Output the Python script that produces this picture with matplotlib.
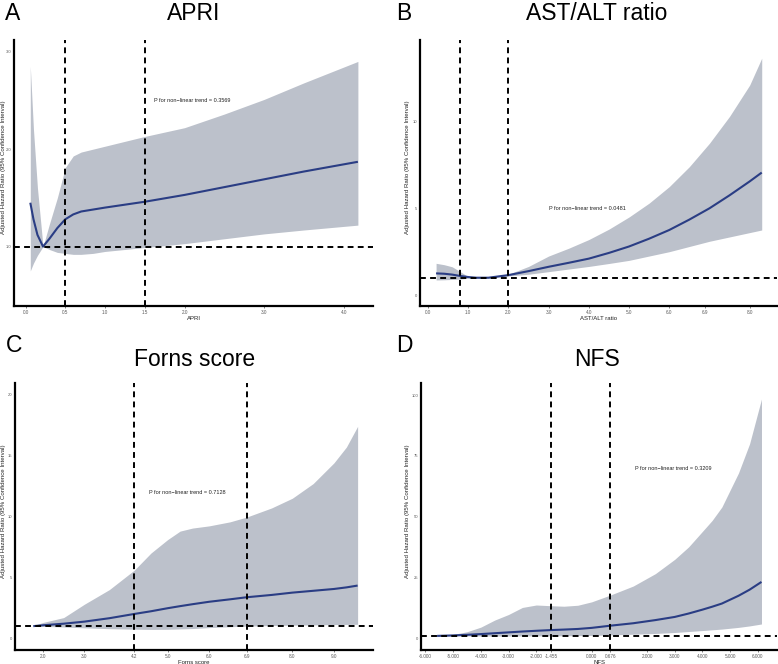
import matplotlib
matplotlib.use("Agg")
import matplotlib.pyplot as plt

plt.rcParams['font.family'] = ['Liberation Sans', 'DejaVu Sans']

# ---------------- data ----------------
# Panel A: APRI
apri_x = [0.06, 0.1, 0.15, 0.22, 0.3, 0.4, 0.5, 0.6, 0.7, 0.85, 1.0, 1.5, 2.0, 2.5, 3.0, 3.5, 4.18]
apri_hr = [1.45, 1.28, 1.12, 1.0, 1.08, 1.19, 1.28, 1.33, 1.36, 1.38, 1.40, 1.46, 1.53, 1.61, 1.69, 1.77, 1.87]
apri_up = [2.85, 2.2, 1.6, 1.0, 1.23, 1.5, 1.81, 1.93, 1.97, 2.0, 2.03, 2.13, 2.22, 2.36, 2.51, 2.68, 2.9]
apri_lo = [0.75, 0.83, 0.91, 1.0, 0.97, 0.94, 0.93, 0.92, 0.92, 0.93, 0.95, 0.99, 1.03, 1.08, 1.13, 1.17, 1.22]
apri_cuts = [0.5, 1.5]
apri_xticks = [0.0, 0.5, 1.0, 1.5, 2.0, 3.0, 4.0]
apri_xticklabels = ["0.0", "0.5", "1.0", "1.5", "2.0", "3.0", "4.0"]
apri_yticks = [1.0, 2.0, 3.0]
apri_yticklabels = ["1.0", "2.0", "3.0"]
apri_p = "P for non\u2212linear trend = 0.3569"

# Panel B: AST/ALT ratio
ratio_x = [0.2, 0.4, 0.6, 0.8, 1.0, 1.2, 1.5, 2.0, 2.5, 3.0, 3.5, 4.0, 4.5, 5.0, 5.5, 6.0, 6.5, 7.0, 7.5, 8.0, 8.3]
ratio_hr = [1.25, 1.23, 1.18, 1.1, 1.04, 1.0, 1.0, 1.15, 1.38, 1.63, 1.86, 2.1, 2.43, 2.8, 3.25, 3.75, 4.35, 5.0, 5.75, 6.55, 7.06]
ratio_up = [1.83, 1.75, 1.63, 1.35, 1.06, 1.02, 1.02, 1.2, 1.65, 2.25, 2.7, 3.2, 3.8, 4.5, 5.3, 6.25, 7.4, 8.75, 10.3, 12.1, 13.65]
ratio_lo = [0.87, 0.88, 0.9, 0.92, 0.97, 0.98, 0.98, 1.1, 1.2, 1.35, 1.5, 1.65, 1.82, 2.0, 2.25, 2.5, 2.8, 3.1, 3.35, 3.6, 3.75]
ratio_cuts = [0.8, 2.0]
ratio_xticks = [0.0, 1.0, 2.0, 3.0, 4.0, 5.0, 6.0, 6.9, 8.0]
ratio_xticklabels = ["0.0", "1.0", "2.0", "3.0", "4.0", "5.0", "6.0", "6.9", "8.0"]
ratio_yticks = [0, 5, 10]
ratio_yticklabels = ["0", "5", "10"]
ratio_p = "P for non\u2212linear trend = 0.0481"

# Panel C: Forns score
forns_x = [1.77, 2.0, 2.5, 3.0, 3.6, 4.2, 4.6, 5.0, 5.3, 5.6, 6.0, 6.5, 6.9, 7.5, 8.0, 8.5, 9.0, 9.3, 9.57]
forns_hr = [1.0, 1.07, 1.2, 1.37, 1.65, 2.0, 2.22, 2.47, 2.64, 2.8, 3.0, 3.2, 3.37, 3.56, 3.75, 3.9, 4.05, 4.18, 4.33]
forns_up = [1.04, 1.3, 1.7, 2.8, 4.0, 5.6, 7.0, 8.1, 8.8, 9.05, 9.23, 9.56, 9.95, 10.7, 11.5, 12.7, 14.4, 15.7, 17.4]
forns_lo = [1.0, 0.98, 0.93, 0.86, 0.79, 0.75, 0.73, 0.74, 0.77, 0.8, 0.88, 0.95, 1.0, 1.05, 1.08, 1.1, 1.13, 1.14, 1.15]
forns_cuts = [4.2, 6.9]
forns_xticks = [2.0, 3.0, 4.2, 5.0, 6.0, 6.9, 8.0, 9.0]
forns_xticklabels = ["2.0", "3.0", "4.2", "5.0", "6.0", "6.9", "8.0", "9.0"]
forns_yticks = [0, 5, 10, 15, 20]
forns_yticklabels = ["0", "5", "10", "15", "20"]
forns_p = "P for non\u2212linear trend = 0.7128"

# Panel D: NFS
nfs_x = [-5.58, -5.0, -4.5, -4.0, -3.5, -3.0, -2.5, -2.0, -1.455, -1.0, -0.5, 0.0, 0.676, 1.5, 2.3, 3.0,
         3.5, 4.0, 4.35, 4.7, 5.3, 5.7, 6.13]
nfs_hr = [1.0, 1.2, 1.45, 1.75, 2.1, 2.45, 2.8, 3.1, 3.4, 3.6, 3.85, 4.3, 5.2, 6.2, 7.5, 8.8,
          10.2, 11.8, 13.0, 14.3, 17.5, 20.0, 23.2]
nfs_up = [1.0, 1.6, 2.7, 4.6, 7.5, 9.8, 12.7, 13.7, 13.4, 13.2, 13.6, 15.0, 17.8, 21.5, 26.6, 32.5,
          37.6, 44.0, 48.5, 54.0, 68.0, 80.0, 98.4]
nfs_lo = [1.0, 0.98, 0.96, 0.95, 0.95, 0.95, 0.97, 1.0, 1.02, 1.05, 1.1, 1.2, 1.4, 1.7, 2.0, 2.4,
          2.8, 3.2, 3.5, 3.8, 4.5, 5.1, 5.9]
nfs_cuts = [-1.455, 0.676]
nfs_xticks = [-6, -5, -4, -3, -2, -1.455, 0, 0.676, 2, 3, 4, 5, 6]
nfs_xticklabels = ["-6.000", "-5.000", "-4.000", "-3.000", "-2.000", "-1.455", "0.000", "0.676",
                   "2.000", "3.000", "4.000", "5.000", "6.000"]
nfs_yticks = [0, 25, 50, 75, 100]
nfs_yticklabels = ["0", "25", "50", "75", "100"]
nfs_p = "P for non\u2212linear trend = 0.3209"

# ---------------- drawing ----------------
LINE = '#2a3d84'
BAND = '#bcc1cb'
W, H = 778, 664

fig = plt.figure(figsize=(W / 100, H / 100), dpi=100)


def px_axes(l, t, r, b):
    return fig.add_axes([l / W, 1 - b / H, (r - l) / W, (b - t) / H])


panels = [
    dict(rect=(14, 40, 373, 306), x=apri_x, hr=apri_hr, up=apri_up, lo=apri_lo, cuts=apri_cuts,
         xt=apri_xticks, xtl=apri_xticklabels, yt=apri_yticks, ytl=apri_yticklabels,
         xlim=(-0.145, 4.37), ylim=(0.39, 3.12), xlabel="APRI", p=apri_p, pxy=(1.61, 2.5),
         title="APRI", letter="A", title_xy=(194, 14), letter_xy=(13, 14), ylab_px=6.2),
    dict(rect=(420, 40, 777, 306), x=ratio_x, hr=ratio_hr, up=ratio_up, lo=ratio_lo, cuts=ratio_cuts,
         xt=ratio_xticks, xtl=ratio_xticklabels, yt=ratio_yticks, ytl=ratio_yticklabels,
         xlim=(-0.2, 8.68), ylim=(-0.63, 14.7), xlabel="AST/ALT ratio", p=ratio_p, pxy=(3.0, 5.0),
         title="AST/ALT ratio", letter="B", title_xy=(597, 14), letter_xy=(404, 14), ylab_px=410),
    dict(rect=(15, 383, 373, 650), x=forns_x, hr=forns_hr, up=forns_up, lo=forns_lo, cuts=forns_cuts,
         xt=forns_xticks, xtl=forns_xticklabels, yt=forns_yticks, ytl=forns_yticklabels,
         xlim=(1.33, 9.94), ylim=(-0.96, 20.96), xlabel="Forns score", p=forns_p, pxy=(4.56, 12.0),
         title="Forns score", letter="C", title_xy=(195, 360), letter_xy=(14, 345), ylab_px=6.2),
    dict(rect=(421, 383, 777, 650), x=nfs_x, hr=nfs_hr, up=nfs_up, lo=nfs_lo, cuts=nfs_cuts,
         xt=nfs_xticks, xtl=nfs_xticklabels, yt=nfs_yticks, ytl=nfs_yticklabels,
         xlim=(-6.16, 6.69), ylim=(-4.8, 105), xlabel="NFS", p=nfs_p, pxy=(1.55, 69.7),
         title="NFS", letter="D", title_xy=(597, 360), letter_xy=(404, 345), ylab_px=410),
]

for pn in panels:
    ax = px_axes(*pn['rect'])
    ax.fill_between(pn['x'], pn['lo'], pn['up'], color=BAND, lw=0, zorder=1)
    ax.plot(pn['x'], pn['hr'], color=LINE, lw=1.5, zorder=3, solid_capstyle='butt')
    ax.axhline(1.0, color='black', lw=1.4, ls=(0, (3, 2.2)), zorder=4)
    for c in pn['cuts']:
        ax.axvline(c, color='black', lw=1.4, ls=(0, (3, 2.2)), zorder=4)
    ax.set_xlim(*pn['xlim'])
    ax.set_ylim(*pn['ylim'])
    ax.set_xticks(pn['xt'])
    ax.set_xticklabels(pn['xtl'])
    ax.set_yticks(pn['yt'])
    ax.set_yticklabels(pn['ytl'])
    for s in ['top', 'right']:
        ax.spines[s].set_visible(False)
    for s in ['left', 'bottom']:
        ax.spines[s].set_linewidth(1.6)
        ax.spines[s].set_color('black')
    ax.tick_params(axis='x', labelsize=3.3, length=1.5, width=0.5, color='#4d4d4d',
                   labelcolor='#5a5a5a', pad=1.6)
    ax.tick_params(axis='y', labelsize=3.0, length=1.0, width=0.5, color='#4d4d4d',
                   labelcolor='#5a5a5a', pad=0.8)
    ax.set_xlabel(pn['xlabel'], fontsize=4.3, labelpad=0.8, color='#222222')
    ax.set_ylabel("Adjusted Hazard Ratio (95% Confidence Interval)", fontsize=4.4, color='#222222')
    l, t, r, b = pn['rect']
    ax.yaxis.set_label_coords((pn['ylab_px'] - l) / (r - l), 0.52)
    ax.text(pn['pxy'][0], pn['pxy'][1], pn['p'], fontsize=4.0, ha='left', va='center',
            color='#222222', zorder=5)
    fig.text(pn['title_xy'][0] / W, 1 - pn['title_xy'][1] / H, pn['title'], fontsize=16.5,
             ha='center', va='center')
    fig.text(pn['letter_xy'][0] / W, 1 - pn['letter_xy'][1] / H, pn['letter'], fontsize=16.5,
             ha='center', va='center')

fig.savefig("out.png", dpi=100)
